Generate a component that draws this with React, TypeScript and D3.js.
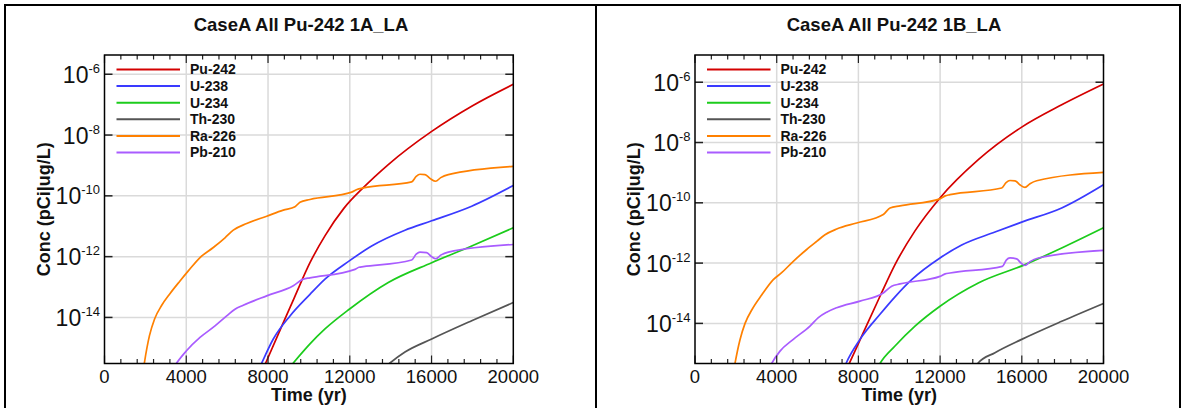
import React from 'react';
import * as d3 from 'd3';

type Pt = [number, number];

// ---------- shared labels ----------
const seriesNames = ['Pu-242', 'U-238', 'U-234', 'Th-230', 'Ra-226', 'Pb-210'];
const seriesColors = ['#d40000', '#3a3aff', '#1ccc1c', '#555555', '#ff8000', '#a95cff'];
const xTickValues = [0, 4000, 8000, 12000, 16000, 20000];
const yTickValues = [1e-6, 1e-8, 1e-10, 1e-12, 1e-14];
const titleA = 'CaseA All Pu-242 1A_LA';
const titleB = 'CaseA All Pu-242 1B_LA';
const xTitle = 'Time (yr)';
const yTitle = 'Conc (pCi|ug/L)';
const xDomain: [number, number] = [0, 20000];
const yDomainA: [number, number] = [3.05e-16, 4.3e-6];
const yDomainB: [number, number] = [4.67e-16, 8.0e-6];

// ---------- panel 1A_LA : [time (yr), concentration] ----------
const pu242A: Pt[] = [[7600, 1.12e-16], [7886, 3.16e-16], [8600, 3.98e-15], [9300, 4.68e-14], [10053, 6.31e-13], [10800, 5.01e-12], [11700, 3.8e-11], [12662, 1.86e-10], [13884, 1.07e-9], [16007, 1.32e-8], [17964, 8.91e-8], [20000, 4.68e-7]];
const u238A: Pt[] = [[7450, 1.41e-16], [7690, 3.16e-16], [8258, 1.95e-15], [9075, 1.12e-14], [10053, 5.75e-14], [10787, 1.82e-13], [11976, 7.24e-13], [13071, 2.24e-12], [14700, 7.41e-12], [16007, 1.51e-11], [17964, 4.57e-11], [20000, 2.19e-10]];
const u234A: Pt[] = [[9000, 2.0e-16], [9237, 3.16e-16], [9809, 8.91e-16], [10053, 1.35e-15], [10787, 4.17e-15], [11976, 1.86e-14], [13884, 1.41e-13], [16007, 6.31e-13], [17964, 2.24e-12], [20000, 8.91e-12]];
const th230A: Pt[] = [[13700, 2.24e-16], [13966, 3.16e-16], [14700, 7.24e-16], [16007, 1.95e-15], [17964, 7.76e-15], [20000, 3.09e-14]];
const ra226A: Pt[] = [[1850, 1.12e-16], [1950, 3.16e-16], [2200, 2.51e-15], [2450, 8.91e-15], [2800, 2.51e-14], [3200, 6.03e-14], [3693, 1.58e-13], [4100, 3.39e-13], [4672, 9.33e-13], [5323, 2.0e-12], [5895, 4.17e-12], [6301, 7.41e-12], [6957, 1.23e-11], [7935, 2.14e-11], [8747, 3.39e-11], [9320, 4.37e-11], [9564, 6.17e-11], [10053, 7.59e-11], [12093, 1.32e-10], [12350, 1.62e-10], [12662, 1.82e-10], [15028, 2.88e-10], [15250, 4.37e-10], [15434, 5.13e-10], [15679, 5.01e-10], [15950, 3.63e-10], [16202, 3.02e-10], [16450, 3.98e-10], [16820, 5.01e-10], [20000, 9.33e-10]];
const pb210A: Pt[] = [[3300, 1.78e-16], [3531, 3.16e-16], [4021, 8.13e-16], [4672, 2.19e-15], [5406, 5.25e-15], [5978, 1.12e-14], [6384, 1.86e-14], [6790, 2.51e-14], [7935, 5.13e-14], [9237, 1.10e-13], [9726, 1.82e-13], [10053, 2.0e-13], [12255, 3.8e-13], [12450, 4.47e-13], [12662, 4.68e-13], [15028, 7.76e-13], [15250, 1.2e-12], [15434, 1.41e-12], [15760, 1.35e-12], [16000, 1.0e-12], [16202, 8.51e-13], [16450, 1.12e-12], [16820, 1.41e-12], [20000, 2.51e-12]];

// ---------- panel 1B_LA ----------
const pu242B: Pt[] = [[7350, 2.34e-16], [7555, 4.68e-16], [8240, 4.9e-15], [9058, 7.94e-14], [9792, 8.91e-13], [10771, 1.17e-11], [11995, 1.45e-10], [13871, 2.69e-9], [15995, 3.24e-8], [17953, 1.78e-7], [20000, 8.71e-7]];
const u238B: Pt[] = [[7200, 2.24e-16], [7393, 4.68e-16], [8078, 2.95e-15], [9058, 2.0e-14], [9792, 7.59e-14], [10608, 2.82e-13], [11995, 1.48e-12], [13057, 3.98e-12], [14688, 1.07e-11], [15995, 2.29e-11], [17953, 6.76e-11], [20000, 3.98e-10]];
const u234B: Pt[] = [[8850, 2.51e-16], [9058, 4.68e-16], [9792, 1.78e-15], [10771, 8.13e-15], [11995, 3.72e-14], [13871, 2.19e-13], [16157, 8.91e-13], [17953, 3.16e-12], [20000, 1.48e-11]];
const th230B: Pt[] = [[13650, 3.16e-16], [13839, 4.68e-16], [14688, 1.07e-15], [15995, 2.95e-15], [17953, 1.17e-14], [20000, 4.57e-14]];
const ra226B: Pt[] = [[1850, 1.78e-16], [1958, 4.68e-16], [2200, 2.82e-15], [2450, 1.0e-14], [2800, 2.95e-14], [3264, 8.71e-14], [3834, 2.82e-13], [4243, 4.79e-13], [4813, 1.15e-12], [5468, 2.82e-12], [5958, 5.25e-12], [6365, 8.71e-12], [6937, 1.35e-11], [7917, 2.14e-11], [9219, 4.07e-11], [9547, 6.76e-11], [10037, 7.94e-11], [11995, 1.35e-10], [12250, 1.70e-10], [12485, 1.86e-10], [15016, 3.09e-10], [15230, 4.68e-10], [15422, 5.5e-10], [15667, 5.37e-10], [15920, 3.89e-10], [16157, 3.24e-10], [16400, 4.27e-10], [16730, 5.37e-10], [20000, 1.02e-9]];
const pb210B: Pt[] = [[3550, 2.51e-16], [3753, 4.68e-16], [4162, 1.2e-15], [4813, 2.95e-15], [5630, 8.13e-15], [6039, 1.55e-14], [6447, 2.34e-14], [6937, 3.31e-14], [8078, 5.5e-14], [9219, 1.02e-13], [9628, 1.70e-13], [10037, 2.04e-13], [11995, 3.63e-13], [12250, 4.37e-13], [12485, 4.68e-13], [15047, 7.76e-13], [15240, 1.26e-12], [15422, 1.48e-12], [15750, 1.38e-12], [15950, 1.02e-12], [16157, 8.32e-13], [16400, 1.12e-12], [16808, 1.48e-12], [20000, 2.63e-12]];

const seriesA = [pu242A, u238A, u234A, th230A, ra226A, pb210A];
const seriesB = [pu242B, u238B, u234B, th230B, ra226B, pb210B];

const FONT = "'Liberation Sans', Arial, Helvetica, sans-serif";

interface PanelProps {
  id: string;
  title: string;
  titleX: number;
  left: number;
  right: number;
  yDomain: [number, number];
  series: Pt[][];
}

function Panel({ id, title, titleX, left, right, yDomain, series }: PanelProps) {
  const top = 55;
  const bottom = 363.5;
  const x = d3.scaleLinear().domain(xDomain).range([left, right]);
  const y = d3.scaleLog().domain(yDomain).range([bottom, top]);
  const line = d3
    .line<Pt>()
    .x((d) => x(d[0]))
    .y((d) => y(d[1]))
    .curve(d3.curveMonotoneX);
  const minorX = d3.range(xDomain[0], xDomain[1] + 1, 800);
  const cx = (left + right) / 2;
  const cy = (top + bottom) / 2;
  return (
    <g>
      <defs>
        <clipPath id={id}>
          <rect x={left} y={top} width={right - left} height={bottom - top} />
        </clipPath>
      </defs>
      <text x={titleX} y={31} textAnchor="middle" fontFamily={FONT} fontWeight="bold" fontSize={18.5} fill="#111">
        {title}
      </text>
      {/* grid */}
      {xTickValues.slice(1, -1).map((t) => (
        <line key={'gx' + t} x1={x(t)} x2={x(t)} y1={top} y2={bottom} stroke="#dadada" strokeWidth={1.5} />
      ))}
      {yTickValues.map((v) => (
        <line key={'gy' + v} x1={left} x2={right} y1={y(v)} y2={y(v)} stroke="#dadada" strokeWidth={1.5} />
      ))}
      {/* legend */}
      {seriesNames.map((n, i) => {
        const ly = 69.5 + i * 16.6;
        return (
          <g key={'lg' + n}>
            <line x1={left + 12} x2={left + 75.5} y1={ly} y2={ly} stroke={seriesColors[i]} strokeWidth={2} />
            <text x={left + 85.5} y={ly + 4.8} fontFamily={FONT} fontWeight="bold" fontSize={14} fill="#111">
              {n}
            </text>
          </g>
        );
      })}
      {/* data */}
      <g clipPath={`url(#${id})`}>
        {series.map((s, i) => (
          <path key={'s' + i} d={line(s) || ''} fill="none" stroke={seriesColors[i]} strokeWidth={1.7} />
        ))}
      </g>
      {/* ticks */}
      {minorX.map((t) => {
        const major = t % 4000 === 0;
        const len = major ? 8 : 4.5;
        return (
          <g key={'tx' + t}>
            <line x1={x(t)} x2={x(t)} y1={bottom} y2={bottom - len} stroke="#222" strokeWidth={1.2} />
            <line x1={x(t)} x2={x(t)} y1={top} y2={top + len} stroke="#222" strokeWidth={1.2} />
          </g>
        );
      })}
      {yTickValues.map((v) => (
        <g key={'ty' + v}>
          <line x1={left} x2={left + 8} y1={y(v)} y2={y(v)} stroke="#222" strokeWidth={1.5} />
          <line x1={right} x2={right - 8} y1={y(v)} y2={y(v)} stroke="#222" strokeWidth={1.5} />
        </g>
      ))}
      <rect x={left} y={top} width={right - left} height={bottom - top} fill="none" stroke="#000" strokeWidth={1.5} />
      {/* tick labels */}
      {xTickValues.map((t) => (
        <text key={'lx' + t} x={x(t)} y={382.5} textAnchor="middle" fontFamily={FONT} fontSize={18.5} fill="#111">
          {t}
        </text>
      ))}
      {yTickValues.map((v) => {
        const e = Math.round(Math.log10(v));
        return (
          <text key={'ly' + v} x={left - 4.5} y={y(v) + 8.5} textAnchor="end" fontFamily={FONT} fontSize={23} fill="#111">
            10
            <tspan fontSize={13} dy={-10}>
              {String(e)}
            </tspan>
          </text>
        );
      })}
      <text x={cx} y={401} textAnchor="middle" fontFamily={FONT} fontWeight="bold" fontSize={18} fill="#111">
        {xTitle}
      </text>
      <text
        transform={`translate(${left - 55},${cy}) rotate(-90)`}
        textAnchor="middle"
        fontFamily={FONT}
        fontWeight="bold"
        fontSize={18}
        fill="#111"
      >
        {yTitle}
      </text>
    </g>
  );
}

export default function App() {
  return (
    <svg
      width={1183}
      height={408}
      style={{ position: 'absolute', left: 0, top: 0, background: '#fff' }}
    >
      <rect x={0} y={0} width={1183} height={408} fill="#fff" />
      <Panel id="clipA" title={titleA} titleX={301} left={104.5} right={513.3} yDomain={yDomainA} series={seriesA} />
      <Panel id="clipB" title={titleB} titleX={894} left={695} right={1103.5} yDomain={yDomainB} series={seriesB} />
      <rect x={5} y={5} width={1175} height={420} fill="none" stroke="#000" strokeWidth={2} />
      <line x1={596} x2={596} y1={5} y2={408} stroke="#000" strokeWidth={2} />
    </svg>
  );
}
